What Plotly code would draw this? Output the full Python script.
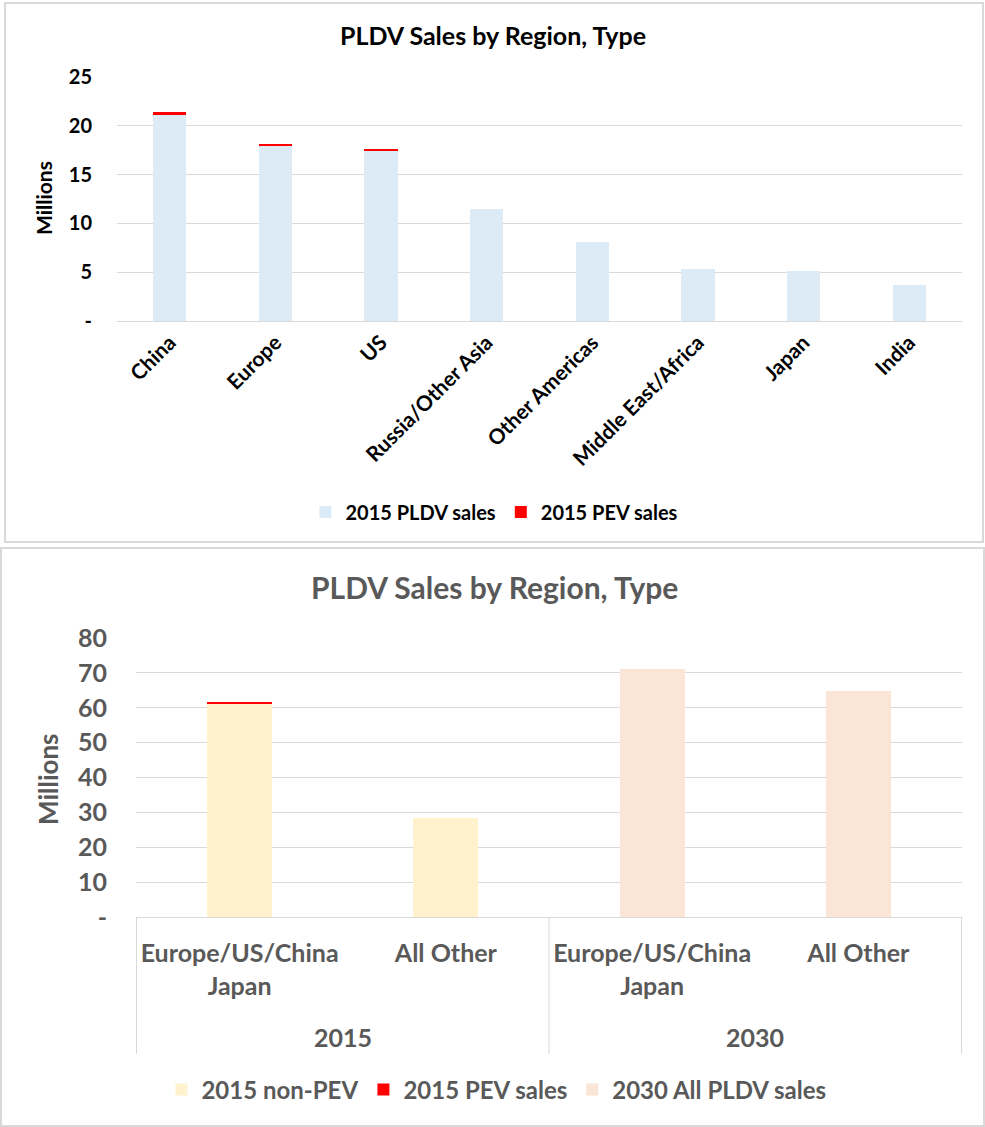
import plotly.graph_objects as go

# top chart data (millions)
regions = ["China", "Europe", "US", "Russia/Other Asia", "Other Americas",
           "Middle East/Africa", "Japan", "India"]
pldv_2015 = [21.1, 18.0, 17.5, 11.5, 8.1, 5.3, 5.1, 3.7]
pev_2015 = [0.3, 0.18, 0.12, 0.0, 0.0, 0.0, 0.0, 0.0]

# bottom chart data (millions)
years = ["2015", "2015", "2030", "2030"]
groups = ["Europe/US/China<br>Japan", "All Other", "Europe/US/China<br>Japan", "All Other"]
non_pev_2015 = [61.1, 28.3]
pev_sales_2015 = [0.6, 0.0]
all_pldv_2030 = [71.1, 64.8]

W, H = 985, 1127
FONT = "Lato"
GRID = "#D9D9D9"
GREY = "#595959"


def px_x(p):
    return p / W


def px_y(p):
    return 1 - p / H


# unique keys for the bottom categories, labels shown through ticktext
cat_keys = [y + " " + g for y, g in zip(years, groups)]

fig = go.Figure()

fig.add_trace(go.Bar(x=regions, y=pldv_2015, name="2015 PLDV sales",
                     marker_color="#DDEBF7", xaxis="x", yaxis="y", legend="legend"))
fig.add_trace(go.Bar(x=regions, y=pev_2015, name="2015 PEV sales",
                     marker_color="#FF0000", xaxis="x", yaxis="y", legend="legend"))

fig.add_trace(go.Bar(x=cat_keys[:2], y=non_pev_2015, name="2015 non-PEV",
                     marker_color="#FFF2CC", xaxis="x2", yaxis="y2", legend="legend2"))
fig.add_trace(go.Bar(x=cat_keys[:2], y=pev_sales_2015, name="2015 PEV sales",
                     marker_color="#FF0000", xaxis="x2", yaxis="y2", legend="legend2"))
fig.add_trace(go.Bar(x=cat_keys[2:], y=all_pldv_2030, name="2030 All PLDV sales",
                     marker_color="#FBE5D6", xaxis="x2", yaxis="y2", legend="legend2"))

fig.update_traces(marker_line_width=0)

fig.update_layout(
    width=W, height=H,
    margin=dict(l=0, r=0, t=0, b=0, autoexpand=False),
    paper_bgcolor="white", plot_bgcolor="white",
    barmode="stack", bargap=0.685,
    font=dict(family=FONT, weight="bold"),
    xaxis=dict(domain=[px_x(117), px_x(962)], anchor="y", automargin=False,
               tickangle=-45, tickfont=dict(size=21, color="black", weight="bold"),
               showline=True, linecolor=GRID, linewidth=1, showgrid=False,
               ticks="", fixedrange=True),
    yaxis=dict(domain=[px_y(321), px_y(77)], anchor="x", range=[0, 25], automargin=False,
               tickvals=[0, 5, 10, 15, 20, 25], ticktext=["-", "5", "10", "15", "20", "25"],
               tickfont=dict(size=20, color="black", weight="bold"),
               showgrid=True, gridcolor=GRID, gridwidth=1, zeroline=False,
               ticklabelstandoff=24),
    xaxis2=dict(domain=[px_x(136), px_x(962)], anchor="y2", automargin=False,
                tickvals=cat_keys, ticktext=groups,
                tickfont=dict(size=25, color=GREY, weight="bold"),
                showline=True, linecolor=GRID, linewidth=1, showgrid=False,
                ticklabelstandoff=14),
    yaxis2=dict(domain=[px_y(917), px_y(638)], anchor="x2", range=[0, 80], automargin=False,
                tickvals=[0, 10, 20, 30, 40, 50, 60, 70, 80],
                ticktext=["-", "10", "20", "30", "40", "50", "60", "70", "80"],
                tickfont=dict(size=25, color=GREY, weight="bold"),
                showgrid=True, gridcolor=GRID, gridwidth=1, zeroline=False,
                ticklabelstandoff=28),
    legend=dict(orientation="h", x=0.502, xanchor="center", y=px_y(512), yanchor="middle",
                font=dict(size=20, color="black", weight="bold"), itemwidth=30,
                traceorder="normal", bgcolor="rgba(0,0,0,0)"),
    legend2=dict(orientation="h", x=0.504, xanchor="center", y=px_y(1090), yanchor="middle",
                 font=dict(size=24, color=GREY, weight="bold"), itemwidth=30,
                 traceorder="normal", bgcolor="rgba(0,0,0,0)"),
    showlegend=True,
)

# chart titles and axis titles
fig.add_annotation(text="PLDV Sales by Region, Type", xref="paper", yref="paper",
                   x=px_x(493), y=px_y(35), xanchor="center", yanchor="middle", showarrow=False,
                   font=dict(size=25, color="black", weight="bold"))
fig.add_annotation(text="Millions", xref="paper", yref="paper", textangle=-90,
                   x=px_x(44), y=px_y(198), xanchor="center", yanchor="middle", showarrow=False,
                   font=dict(size=21, color="black", weight="bold"))
fig.add_annotation(text="PLDV Sales by Region, Type", xref="paper", yref="paper",
                   x=px_x(495), y=px_y(587), xanchor="center", yanchor="middle", showarrow=False,
                   font=dict(size=30, color=GREY, weight="bold"))
fig.add_annotation(text="Millions", xref="paper", yref="paper", textangle=-90,
                   x=px_x(48), y=px_y(779), xanchor="center", yanchor="middle", showarrow=False,
                   font=dict(size=26, color=GREY, weight="bold"))

# year group labels and dividers under the bottom axis
for i, yr in enumerate(["2015", "2030"]):
    fig.add_annotation(text=yr, xref="x2", yref="paper", x=2 * i + 0.5, y=px_y(1037),
                       xanchor="center", yanchor="middle", showarrow=False,
                       font=dict(size=25, color=GREY, weight="bold"))
for xb in [-0.5, 1.5, 3.5]:
    fig.add_shape(type="line", xref="x2", yref="paper", x0=xb, x1=xb,
                  y0=px_y(1054), y1=px_y(917), line=dict(color=GRID, width=1))

# card borders
fig.add_shape(type="rect", xref="paper", yref="paper",
              x0=px_x(5), x1=px_x(983), y0=px_y(542), y1=px_y(3),
              line=dict(color=GRID, width=2), layer="below")
fig.add_shape(type="rect", xref="paper", yref="paper",
              x0=px_x(1), x1=px_x(984), y0=px_y(1126), y1=px_y(548),
              line=dict(color=GRID, width=2), layer="below")

fig.write_html("out.html", config={"displayModeBar": False},
               post_script="document.body.style.margin='0';document.body.style.overflow='hidden';")
